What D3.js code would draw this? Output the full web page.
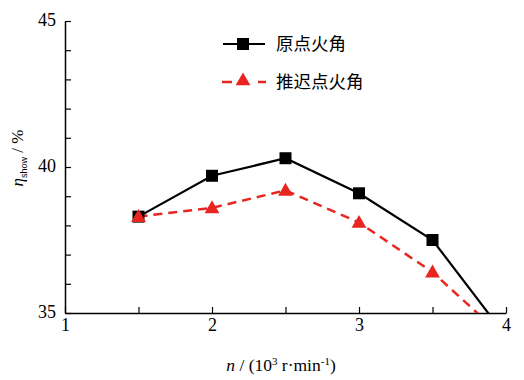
<!DOCTYPE html>
<html><head><meta charset="utf-8">
<script src="https://cdn.jsdelivr.net/npm/d3@7"></script>
<style>body{margin:0;background:#fff}</style>
</head><body>
<svg id="c" width="524" height="380"></svg>
<script>
const xs = [1.5, 2, 2.5, 3, 3.5, 4];
const original = [38.3, 39.7, 40.3, 39.1, 37.5, 34.2];
const retarded = [38.3, 38.6, 39.2, 38.1, 36.4, 34.1];
const xTicks = [1, 2, 3, 4];
const yTicks = [35, 40, 45];
const legendNames = ["原点火角", "推迟点火角"];

const svg = d3.select("#c");
const L = 65, R = 506, T = 21, B = 313;
const x = d3.scaleLinear().domain([1, 4]).range([L, R]);
const y = d3.scaleLinear().domain([35, 45]).range([B, T]);
const serif = "'Liberation Serif','Times New Roman',serif";
const red = "#e82520";

svg.append("defs").append("clipPath").attr("id", "clip")
  .append("rect").attr("x", L).attr("y", T).attr("width", R - L).attr("height", B - T);

// axes
const xAxis = svg.append("g").attr("transform", `translate(0,${B})`)
  .call(d3.axisBottom(x).tickValues(d3.range(1, 4.01, 0.5)).tickSizeInner(-6).tickSizeOuter(0)
    .tickFormat(d => xTicks.includes(d) ? d3.format("d")(d) : ""));
const yAxis = svg.append("g").attr("transform", `translate(${L},0)`)
  .call(d3.axisLeft(y).tickValues(d3.range(35, 45.01, 1)).tickSizeInner(-6).tickSizeOuter(0)
    .tickFormat(d => yTicks.includes(d) ? d3.format("d")(d) : ""));
[xAxis, yAxis].forEach(g => {
  g.select(".domain").attr("stroke", "#000").attr("stroke-width", 1.5);
  g.selectAll(".tick line").attr("stroke", "#000").attr("stroke-width", 1.2);
  g.selectAll(".tick text").attr("font-family", serif).attr("font-size", 18).attr("fill", "#000");
});
xAxis.selectAll(".tick text").attr("dy", "0.2em").attr("y", 14);
yAxis.selectAll(".tick text").attr("x", -9).attr("dy", "0.25em");

// lines
const line = d3.line().x((d, i) => x(xs[i])).y(d => y(d));
const plot = svg.append("g").attr("clip-path", "url(#clip)");
plot.append("path").datum(original).attr("d", line).attr("fill", "none")
  .attr("stroke", "#000").attr("stroke-width", 2.2);
plot.append("path").datum(retarded).attr("d", line).attr("fill", "none")
  .attr("stroke", red).attr("stroke-width", 2.5).attr("stroke-dasharray", "9,6");

const sq = 12, tri = d3.symbol().type(d3.symbolTriangle).size(95);
plot.selectAll(".sq").data(original).join("rect")
  .attr("x", (d, i) => x(xs[i]) - sq / 2).attr("y", d => y(d) - sq / 2)
  .attr("width", sq).attr("height", sq).attr("fill", "#000");
plot.selectAll(".tr").data(retarded).join("path")
  .attr("d", tri).attr("transform", (d, i) => `translate(${x(xs[i])},${y(d) + 1})`)
  .attr("fill", red);

// legend
const lg = svg.append("g");
lg.append("line").attr("x1", 223).attr("x2", 265).attr("y1", 44).attr("y2", 44)
  .attr("stroke", "#000").attr("stroke-width", 2.2);
lg.append("rect").attr("x", 243 - 6).attr("y", 44 - 6).attr("width", 12).attr("height", 12).attr("fill", "#000");
lg.append("line").attr("x1", 222).attr("x2", 266).attr("y1", 82).attr("y2", 82)
  .attr("stroke", red).attr("stroke-width", 2.5).attr("stroke-dasharray", "10,26,10");
lg.append("path").attr("d", tri).attr("transform", "translate(243,81)").attr("fill", red);
lg.selectAll("text").data(legendNames).join("text")
  .attr("x", 276).attr("y", (d, i) => i ? 82 : 44).attr("dy", "0.35em")
  .attr("font-family", "'Noto Sans CJK SC',sans-serif").attr("font-size", 17.5).attr("fill", "#000")
  .text(d => d);

// axis titles
const xt = svg.append("text").attr("x", 281).attr("y", 371).attr("text-anchor", "middle")
  .attr("font-family", serif).attr("font-size", 17.5).attr("fill", "#000");
xt.append("tspan").attr("font-style", "italic").text("n");
xt.append("tspan").text(" / (10");
xt.append("tspan").attr("font-size", 11).attr("dy", -6).text("3");
xt.append("tspan").attr("dy", 6).text(" r·min");
xt.append("tspan").attr("font-size", 11).attr("dy", -6).text("-1");
xt.append("tspan").attr("dy", 6).text(")");

const yt = svg.append("text").attr("transform", "translate(23,158) rotate(-90)").attr("text-anchor", "middle")
  .attr("font-family", serif).attr("font-size", 17).attr("fill", "#000");
yt.append("tspan").attr("font-style", "italic").text("η");
yt.append("tspan").attr("font-family", "'Liberation Sans',Arial,sans-serif").attr("font-size", 9).attr("dy", 4).text("show");
yt.append("tspan").attr("dy", -4).text(" / %");
</script>
</body></html>
